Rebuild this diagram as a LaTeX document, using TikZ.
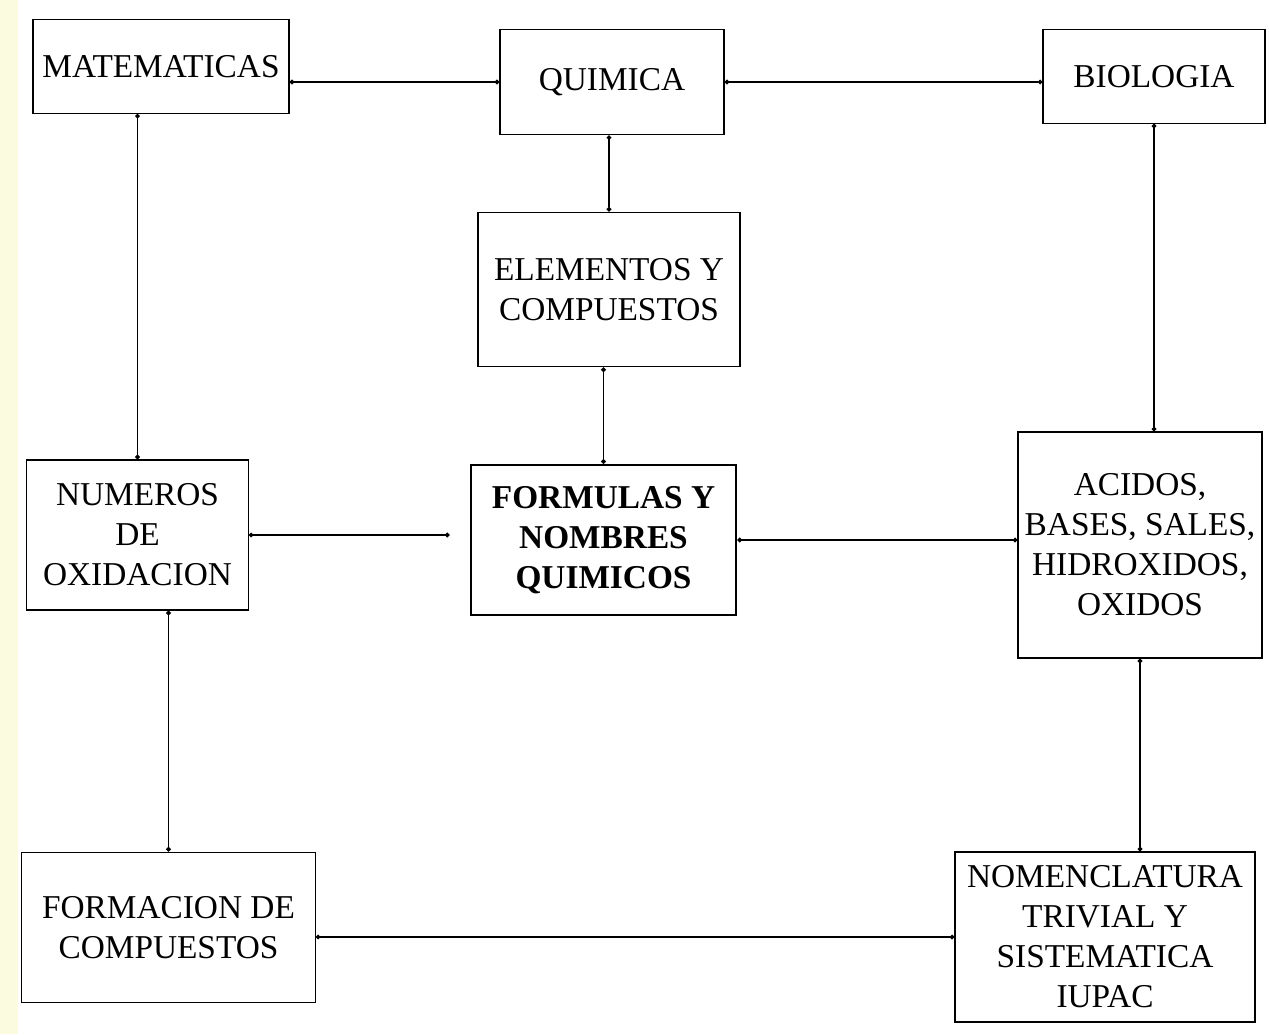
\documentclass[tikz,border=0pt]{standalone}
\usepackage{fontspec}
\setmainfont{Liberation Serif}
\usetikzlibrary{arrows.meta}
\definecolor{papel}{RGB}{251,251,224}
\tikzset{caja/.style={draw, line width=0.9pt, align=center, inner sep=0pt,
  font=\fontsize{25}{30}\selectfont}}
\begin{document}
\begin{tikzpicture}[x=0.75pt, y=-0.75pt]
\useasboundingbox (0,0) rectangle (1269,1034);
\fill[papel] (0,0) rectangle (18,1034);

\node[caja, minimum width=192pt, minimum height=70pt] (mat) at (161,66.5) {MATEMATICAS};
\node[caja, minimum width=168pt, minimum height=79pt] (quim) at (612,82) {QUIMICA};
\node[caja, minimum width=166.5pt, minimum height=70pt] (bio) at (1154,76.5) {BIOLOGIA};

\node[caja, minimum width=196.5pt, minimum height=116pt] (elem) at (609,289.5) {ELEMENTOS Y\\COMPUESTOS};

\node[caja, minimum width=166pt, minimum height=112.5pt] (num) at (137.5,535) {NUMEROS\\DE\\OXIDACION};
\node[caja, line width=1.8pt, font=\fontsize{25}{30}\selectfont\bfseries,
  minimum width=199pt, minimum height=112.5pt] (form) at (603.5,540) {FORMULAS Y\\NOMBRES\\QUIMICOS};
\node[caja, minimum width=183pt, minimum height=169.5pt] (acid) at (1140,545) {ACIDOS,\\BASES, SALES,\\HIDROXIDOS,\\OXIDOS};

\node[caja, minimum width=220pt, minimum height=113pt] (formac) at (168.5,927.5) {FORMACION DE\\COMPUESTOS};
\node[caja, minimum width=225pt, minimum height=127.5pt] (nomen) at (1105,937) {NOMENCLATURA\\TRIVIAL Y\\SISTEMATICA\\IUPAC};

\begin{scope}[{Circle[length=3.5pt]}-{Circle[length=3.5pt]}, line width=0.9pt]
\draw (quim.west -| mat.east)--(quim.west);
\draw (quim.east)--(quim.east -| bio.west);
\draw (elem.north |- quim.south)--(elem.north);
\draw (form.north |- elem.south)--(form.north);
\draw (num.north |- mat.south)--(num.north);
\draw[shorten >=15pt] (num.east)--(num.east -| form.west);
\draw (form.east)--(form.east -| acid.west);
\draw (bio.south)--(bio.south |- acid.north);
\draw (formac.north |- num.south)--(formac.north);
\draw (acid.south)--(acid.south |- nomen.north);
\draw (nomen.west -| formac.east)--(nomen.west);
\end{scope}
\end{tikzpicture}
\end{document}
